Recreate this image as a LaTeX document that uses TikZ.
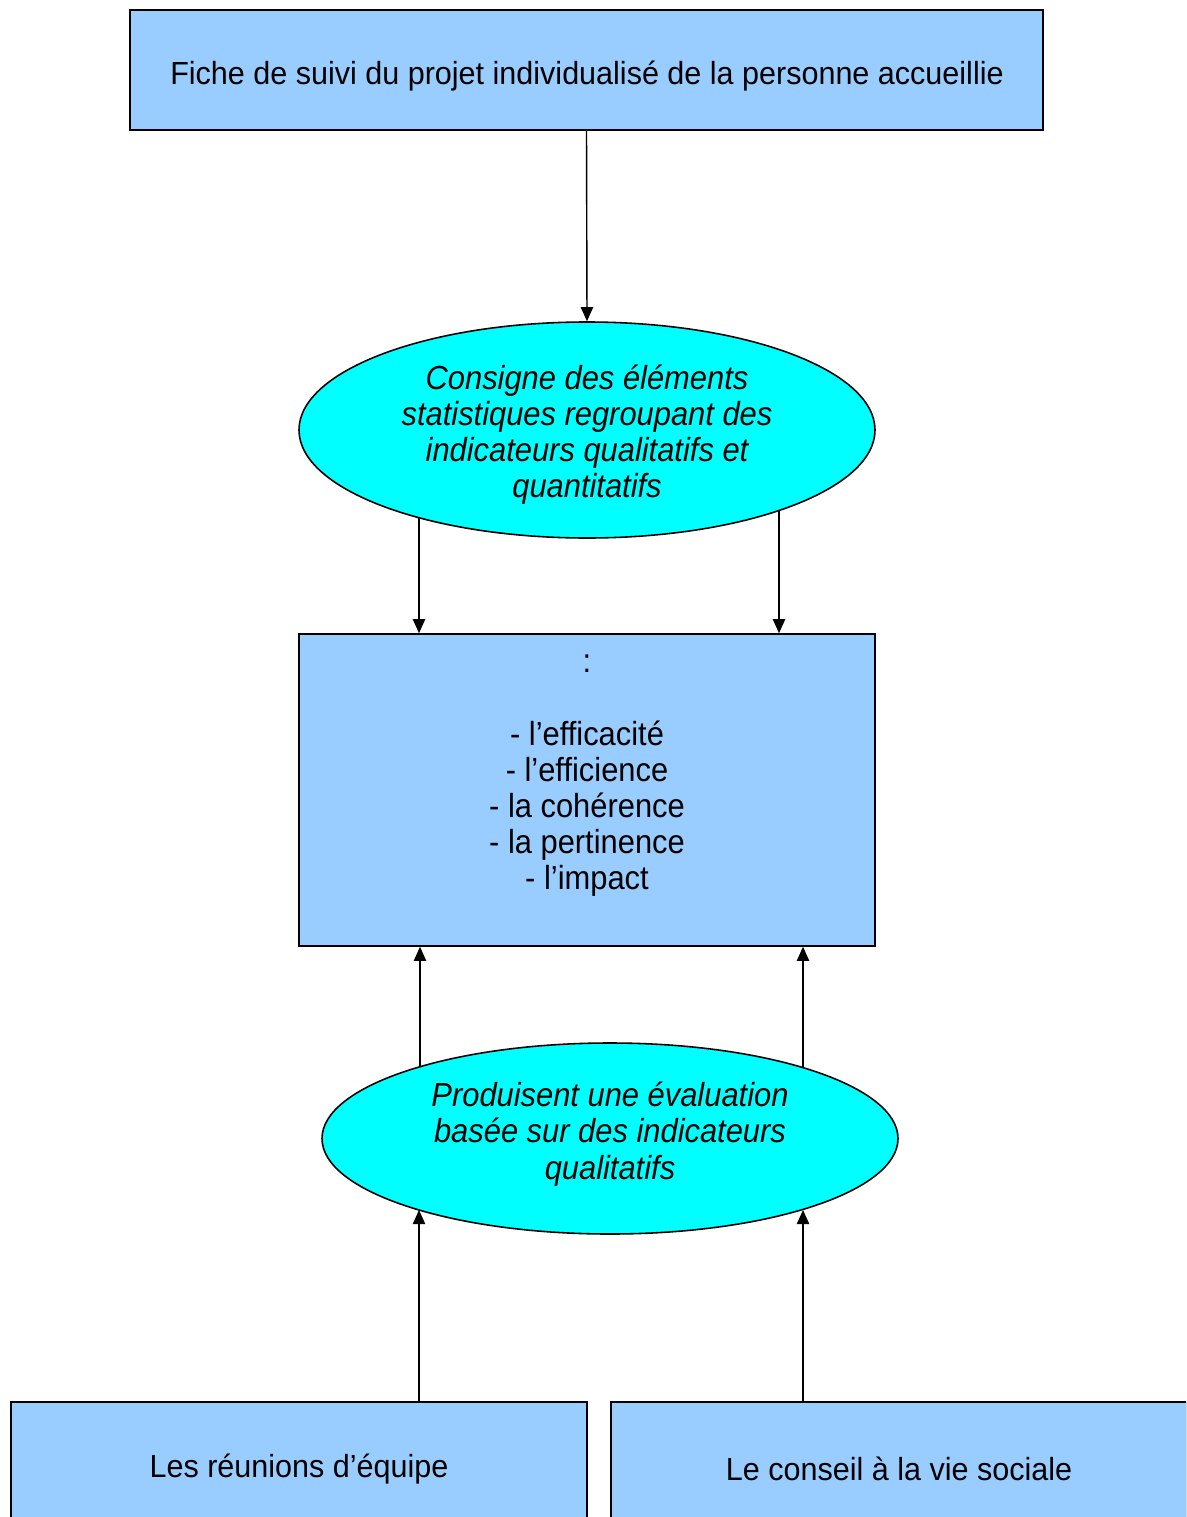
\documentclass[tikz,border=0pt]{standalone}
\usepackage{fontspec}
\setmainfont{Liberation Sans}
\newfontfamily\narrowfont[FakeStretch=0.955]{Liberation Sans}
\newfontfamily\gothfont[FakeStretch=0.925]{Liberation Sans}
\usetikzlibrary{shapes.geometric,arrows.meta,calc}
\definecolor{boxblue}{HTML}{99CCFF}
\definecolor{ellcyan}{HTML}{00FFFF}
\def\u{0.02cm}
\tikzset{
  blbox/.style={draw=black, line width=0.9pt, fill=boxblue, rectangle, inner sep=0pt},
  ell/.style={draw=black, line width=0.9pt, fill=ellcyan, ellipse, inner sep=0pt},
  arr/.style={line width=0.8pt, -{Triangle[width=7pt,length=8pt]}},
  boxtxt/.style={inner sep=0pt, font=\narrowfont\fontsize{18.2}{20.6}\selectfont},
  elltxt/.style={align=center, inner sep=0pt, font=\gothfont\itshape\fontsize{19}{20.6}\selectfont},
  midtxt/.style={align=center, inner sep=0pt, font=\gothfont\fontsize{19}{20.6}\selectfont}
}
\begin{document}
\begin{tikzpicture}[x=0.02cm, y=-0.02cm]
\useasboundingbox (0,0) rectangle (1186,1517);
\clip (0,0) rectangle (1186,1517);
\node[blbox, minimum width=913*\u, minimum height=120*\u] (top) at (586.5,70) {};
\node[boxtxt] (topt) at (587,76) {Fiche de suivi du projet individualisé de la personne accueillie};
\node[ell, minimum width=576*\u, minimum height=216*\u] (e1) at (587,430) {};
\node[elltxt] (e1t) at (587,434.5) {Consigne des éléments\\statistiques regroupant des\\indicateurs qualitatifs et\\quantitatifs};
\node[blbox, minimum width=576*\u, minimum height=312*\u] (mid) at (587,790) {};
\node[midtxt] (midt) at (587,776) {:\\[0pt] \mbox{}\\- l’efficacité\\- l’efficience\\- la cohérence\\- la pertinence\\- l’impact};
\node[ell, minimum width=576*\u, minimum height=191*\u] (e2) at (610,1138.5) {};
\node[elltxt] (e2t) at (610,1134) {Produisent une évaluation\\basée sur des indicateurs\\qualitatifs};
\node[blbox, minimum width=576*\u, minimum height=126*\u] (bl) at (299,1465) {};
\node[boxtxt] (blt) at (299,1469) {Les réunions d’équipe};
\node[blbox, minimum width=576*\u, minimum height=126*\u] (br) at (899,1465) {};
\node[boxtxt] (brt) at (899,1469) {Le conseil à la vie sociale};
\coordinate (e1l) at ($(e1.center)+(-168,88)$);
\coordinate (e1r) at ($(e1.center)+(192,81)$);
\coordinate (e2tl) at ($(e2.center)+(-190,-72.5)$);
\coordinate (e2tr) at ($(e2.center)+(193,-71.5)$);
\coordinate (e2bl) at ($(e2.center)+(-191,71.5)$);
\coordinate (e2br) at ($(e2.center)+(193,71.5)$);
\draw[arr] (top.south) -- (e1.north);
\draw[arr] (e1l) -- (e1l |- mid.north);
\draw[arr] (e1r) -- (e1r |- mid.north);
\draw[arr] (e2tl) -- (e2tl |- mid.south);
\draw[arr] (e2tr) -- (e2tr |- mid.south);
\draw[arr] (e2bl |- bl.north) -- (e2bl);
\draw[arr] (e2br |- br.north) -- (e2br);
\end{tikzpicture}
\end{document}
